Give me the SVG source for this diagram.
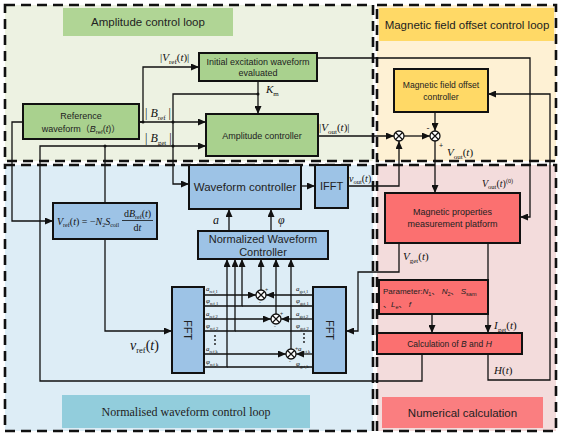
<svg xmlns="http://www.w3.org/2000/svg" width="564" height="435" viewBox="0 0 564 435">
<defs>
<style>
.bd{fill:none;stroke:#111;stroke-width:2.6;stroke-dasharray:10 6}
.nd{stroke:#111;stroke-width:2}
.g{fill:#a9d18e}.y{fill:#ffd966}.b{fill:#9dc3e6}.r{fill:#fb7070}
.t{font-family:"Liberation Sans","Noto Sans CJK SC",sans-serif;fill:#222;text-anchor:middle}
.m{font-family:"Liberation Serif",serif;font-style:italic;fill:#111}
.n{font-style:normal}
.c path{fill:none;stroke:#111;stroke-width:1.3}
.c .a{marker-end:url(#ah)}
.x circle{fill:#fff;stroke:#111;stroke-width:1.3}
.x path{fill:none;stroke:#111;stroke-width:1.2}
.dot{fill:#111}
</style>
<marker id="ah" markerUnits="userSpaceOnUse" markerWidth="8" markerHeight="7" refX="8" refY="3.5" orient="auto"><path d="M0,0 L8,3.5 L0,7 z" fill="#111"/></marker>
</defs>

<!-- regions -->
<g id="regions">
<rect x="5" y="5" width="368" height="156" fill="#edf2e2"/>
<rect x="377" y="5" width="179" height="156" fill="#fef1d4"/>
<rect x="5" y="165" width="368" height="266" fill="#ddedf6"/>
<rect x="377" y="165" width="179" height="266" fill="#f3dcdc"/>
<rect x="63" y="8" width="170" height="28" fill="#b0d595"/>
<rect x="379" y="8" width="175" height="33" fill="#ffd966"/>
<rect x="62" y="395" width="248" height="33" fill="#92cddc"/>
<rect x="382" y="397" width="161" height="31" fill="#fa7e80"/>
<text class="t" x="148" y="26" font-size="11.5">Amplitude control loop</text>
<text class="t" x="467" y="28.5" font-size="11.5">Magnetic field offset control loop</text>
<text x="186" y="416" font-size="12" font-family="Liberation Serif,serif" text-anchor="middle" fill="#222">Normalised waveform control loop</text>
<text class="t" x="462.5" y="416.5" font-size="11.5">Numerical calculation</text>
<rect class="bd" x="5" y="5" width="368" height="156"/>
<rect class="bd" x="377" y="5" width="179" height="156"/>
<rect class="bd" x="5" y="165" width="368" height="266"/>
<rect class="bd" x="377" y="165" width="179" height="266"/>
</g>

<!-- connectors -->
<g id="connectors" class="c">
<path class="a" d="M23,122 H12 V221 H53"/>
<path class="a" d="M139,122 H143 V67 H199"/>
<path class="a" d="M139,122 H206"/>
<path class="a" d="M258,81 V114"/>
<path class="a" d="M258,94 H173 V184 H189"/>
<path class="a" d="M318,136 H394"/>
<path class="a" d="M404,136 H430"/>
<path class="a" d="M435,112 V131"/>
<path class="a" d="M435,141 V193"/>
<path class="a" d="M317,58 H530 V217 H520"/>
<path class="a" d="M301,186 H315"/>
<path class="a" d="M348,186 H399 V141"/>
<path d="M105,146 V203"/>
<path class="a" d="M105,239 V331 H172"/>
<path class="a" d="M422,354 V381 H40 V146 H206"/>
<path class="a" d="M488,354 V380 H550 V94 H488"/>
<path class="a" d="M488,243 V333"/>
<path class="a" d="M432,314 V333"/>
<path class="a" d="M399,243 V272 H358 V331 H346"/>
<path class="a" d="M229,231 V209"/>
<path class="a" d="M271,231 V209"/>
<path class="a" d="M204,295 H256"/>
<path class="a" d="M313,295 H266"/>
<path class="a" d="M261,290 V259"/>
<path class="a" d="M204,306 H242 V259"/>
<path d="M313,306 H242"/>
<path class="a" d="M204,319 H271"/>
<path class="a" d="M313,319 H281"/>
<path class="a" d="M276,314 V259"/>
<path class="a" d="M204,331 H235 V259"/>
<path d="M313,331 H235"/>
<path class="a" d="M204,354 H286"/>
<path class="a" d="M313,354 H296"/>
<path class="a" d="M291,349 V259"/>
<path class="a" d="M204,367 H227 V259"/>
<path d="M313,367 H227"/>
<circle class="dot" cx="143" cy="122" r="1.5"/>
<circle class="dot" cx="173" cy="122" r="1.5"/>
<circle class="dot" cx="173" cy="146" r="1.5"/>
<circle class="dot" cx="105" cy="146" r="1.5"/>
<circle class="dot" cx="258" cy="94" r="1.5"/>
</g>

<!-- multipliers -->
<g id="mul1" class="x"><circle cx="399" cy="136" r="5"/><path d="M395.5,132.5 l7,7 m0,-7 l-7,7"/></g>
<g id="mul2" class="x"><circle cx="435" cy="136" r="5"/><path d="M431.5,132.5 l7,7 m0,-7 l-7,7"/></g>
<g id="mul3" class="x"><circle cx="261" cy="295" r="5"/><path d="M257.5,291.5 l7,7 m0,-7 l-7,7"/></g>
<g id="mul4" class="x"><circle cx="276" cy="319" r="5"/><path d="M272.5,315.5 l7,7 m0,-7 l-7,7"/></g>
<g id="mul5" class="x"><circle cx="291" cy="354" r="5"/><path d="M287.5,350.5 l7,7 m0,-7 l-7,7"/></g>

<!-- nodes -->
<g id="ref"><rect class="nd g" x="23" y="104" width="116" height="35"/>
<text class="t" x="81" y="119" font-size="9">Reference</text>
<text class="t" x="81" y="132" font-size="9">waveform（<tspan font-style="italic">B</tspan><tspan font-size="6" dy="2">ref</tspan><tspan dy="-2">(</tspan><tspan font-style="italic">t</tspan>)）</text></g>
<g id="init"><rect class="nd g" x="199" y="53" width="118" height="28"/>
<text class="t" x="258" y="65" font-size="9">Initial excitation waveform</text>
<text class="t" x="258" y="76" font-size="9">evaluated</text></g>
<g id="amp"><rect class="nd g" x="206" y="114" width="112" height="42"/>
<text class="t" x="262" y="138.5" font-size="9">Amplitude controller</text></g>
<g id="offset"><rect class="nd y" x="394" y="69" width="94" height="43"/>
<text class="t" x="441" y="88" font-size="8.6">Magnetic field offset</text>
<text class="t" x="441" y="100" font-size="8.6">controller</text></g>
<g id="vref"><rect class="nd b" x="53" y="203" width="104" height="36"/>
<text class="m" x="57" y="225" font-size="10">V<tspan class="n" font-size="6" dy="2">ref</tspan><tspan class="n" dy="-2">(</tspan>t<tspan class="n">) = −</tspan>N<tspan class="n" font-size="6" dy="2">2</tspan><tspan dy="-2">S</tspan><tspan class="n" font-size="6" dy="2">coil</tspan></text>
<text class="m" x="137.5" y="217" font-size="10" text-anchor="middle"><tspan class="n">d</tspan>B<tspan class="n" font-size="6" dy="2">ref</tspan><tspan class="n" dy="-2">(</tspan>t<tspan class="n">)</tspan></text>
<path d="M122,220.5 H153" stroke="#111" stroke-width="0.8"/>
<text class="m" x="137.5" y="231" font-size="10" text-anchor="middle"><tspan class="n">d</tspan>t</text></g>
<g id="wc"><rect class="nd b" x="189" y="165" width="112" height="44"/>
<text class="t" x="245" y="191" font-size="11.5">Waveform controller</text></g>
<g id="ifft"><rect class="nd b" x="315" y="165" width="33" height="43"/>
<text class="t" x="331.5" y="190" font-size="11">IFFT</text></g>
<g id="nwc"><rect class="nd b" x="198" y="231" width="130" height="28"/>
<text class="t" x="263" y="243" font-size="11">Normalized Waveform</text>
<text class="t" x="263" y="256" font-size="11">Controller</text></g>
<g id="fftL"><rect class="nd b" x="172" y="287" width="32" height="86"/>
<text class="t" font-size="11" transform="translate(188,330) rotate(90)" y="4">FFT</text></g>
<g id="fftR"><rect class="nd b" x="313" y="287" width="33" height="86"/>
<text class="t" font-size="11" transform="translate(329.5,330) rotate(90)" y="4">FFT</text></g>
<g id="platform"><rect class="nd r" x="385" y="193" width="135" height="50"/>
<text class="t" x="452.5" y="215" font-size="9">Magnetic properties</text>
<text class="t" x="452.5" y="227" font-size="9">measurement platform</text></g>
<g id="param"><rect class="nd r" x="379" y="280" width="109" height="34"/>
<text x="383" y="294" font-size="8" font-family="Liberation Sans,Noto Sans CJK SC,sans-serif" fill="#222">Parameter:<tspan font-style="italic">N</tspan><tspan font-size="5.5" dy="1.5">1</tspan><tspan dy="-1.5">、 </tspan><tspan font-style="italic">N</tspan><tspan font-size="5.5" dy="1.5">2</tspan><tspan dy="-1.5">、 </tspan><tspan font-style="italic">S</tspan><tspan font-size="5.5" dy="1.5">sam</tspan></text>
<text x="383" y="307" font-size="8" font-family="Liberation Sans,Noto Sans CJK SC,sans-serif" fill="#222">、<tspan font-style="italic">L</tspan><tspan font-size="5.5" dy="1.5">e</tspan><tspan dy="-1.5">、 </tspan><tspan font-style="italic">f</tspan></text></g>
<g id="calc"><rect class="nd r" x="377" y="333" width="145" height="21"/>
<text class="t" x="449.5" y="346.5" font-size="8.5">Calculation of <tspan font-style="italic">B</tspan> and <tspan font-style="italic">H</tspan></text></g>

<!-- labels -->
<g id="labels">
<text class="m" x="160" y="61" font-size="11"><tspan class="n">|</tspan>V<tspan class="n" font-size="7" dy="2.5">ref</tspan><tspan class="n" dy="-2.5">(</tspan>t<tspan class="n">)|</tspan></text>
<text class="m" x="145" y="117" font-size="12"><tspan class="n">| </tspan>B<tspan class="n" font-size="7" dy="2.5">ref</tspan><tspan class="n" dy="-2.5"> |</tspan></text>
<text class="m" x="145" y="142" font-size="12"><tspan class="n">| </tspan>B<tspan class="n" font-size="7" dy="2.5">get</tspan><tspan class="n" dy="-2.5"> |</tspan></text>
<text class="m" x="266" y="93" font-size="11">K<tspan class="n" font-size="7" dy="2.5">m</tspan></text>
<text class="m" x="319" y="131" font-size="11"><tspan class="n">|</tspan>V<tspan class="n" font-size="7" dy="2.5">out</tspan><tspan class="n" dy="-2.5">(</tspan>t<tspan class="n">)|</tspan></text>
<text class="m" x="349" y="182" font-size="10">v<tspan class="n" font-size="6.5" dy="2">out</tspan><tspan class="n" dy="-2">(</tspan>t<tspan class="n">)</tspan></text>
<text class="m" x="447" y="156" font-size="11">V<tspan class="n" font-size="7" dy="2.5">out</tspan><tspan class="n" dy="-2.5">(</tspan>t<tspan class="n">)</tspan></text>
<text class="m" x="482" y="187" font-size="10">V<tspan class="n" font-size="6.5" dy="2">out</tspan><tspan class="n" dy="-2">(</tspan>t<tspan class="n">)</tspan><tspan class="n" font-size="6" dy="-4">(0)</tspan></text>
<text class="m" x="403" y="260" font-size="11">V<tspan class="n" font-size="7" dy="2.5">get</tspan><tspan class="n" dy="-2.5">(</tspan>t<tspan class="n">)</tspan></text>
<text class="m" x="494" y="329" font-size="11">I<tspan class="n" font-size="7" dy="2.5">get</tspan><tspan class="n" dy="-2.5">(</tspan>t<tspan class="n">)</tspan></text>
<text class="m" x="494" y="374" font-size="11">H<tspan class="n">(</tspan>t<tspan class="n">)</tspan></text>
<text class="m" x="130" y="350" font-size="14">v<tspan class="n" font-size="8.5" dy="3">ref</tspan><tspan class="n" dy="-3">(</tspan>t<tspan class="n">)</tspan></text>
<text class="m" x="213" y="224" font-size="12">a</text>
<text class="m" x="278" y="224" font-size="12">φ</text>
<text class="t" x="428" y="131" font-size="9">-</text>
<text class="t" x="441" y="148" font-size="7">+</text>
<g font-size="5.5" font-family="Liberation Sans,sans-serif" fill="#333">
<text x="265" y="291">+</text><text x="259" y="304">-</text>
<text x="280" y="315">+</text><text x="274" y="328">-</text>
<text x="295" y="350">+</text><text x="289" y="363">-</text>
</g>
<g class="m" font-size="7">
<text x="206" y="291">a<tspan class="n" font-size="4.5" dy="1.5">ref,1</tspan></text>
<text x="206" y="303">φ<tspan class="n" font-size="4.5" dy="1.5">ref,1</tspan></text>
<text x="206" y="316">a<tspan class="n" font-size="4.5" dy="1.5">ref,2</tspan></text>
<text x="206" y="328">φ<tspan class="n" font-size="4.5" dy="1.5">ref,2</tspan></text>
<text x="206" y="351">a<tspan class="n" font-size="4.5" dy="1.5">ref,k</tspan></text>
<text x="206" y="364">φ<tspan class="n" font-size="4.5" dy="1.5">ref,k</tspan></text>
<text x="296" y="291">a<tspan class="n" font-size="4.5" dy="1.5">get,1</tspan></text>
<text x="296" y="303">φ<tspan class="n" font-size="4.5" dy="1.5">get,1</tspan></text>
<text x="296" y="316">a<tspan class="n" font-size="4.5" dy="1.5">get,2</tspan></text>
<text x="296" y="328">φ<tspan class="n" font-size="4.5" dy="1.5">get,2</tspan></text>
<text x="298" y="351">a<tspan class="n" font-size="4.5" dy="1.5">get,k</tspan></text>
<text x="296" y="366">φ<tspan class="n" font-size="4.5" dy="1.5">get,k</tspan></text>
</g>
<g class="dot"><circle cx="215" cy="336" r="0.9"/><circle cx="215" cy="340" r="0.9"/><circle cx="215" cy="344" r="0.9"/>
<circle cx="304" cy="334" r="0.9"/><circle cx="304" cy="338" r="0.9"/><circle cx="304" cy="342" r="0.9"/></g>
</g>
</svg>
